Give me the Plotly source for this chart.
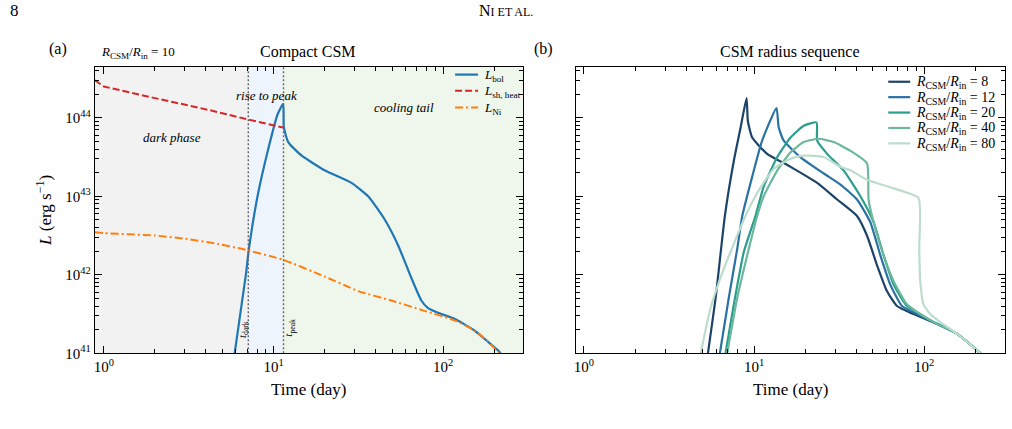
import numpy as np
import plotly.graph_objects as go

W, H = 1012, 429
SERIF = "Liberation Serif"

# ---------------- Panel (a): compact CSM, R_CSM/R_in = 10 ----------------
t_bol = [5.9, 6.87, 7.16, 8.05, 9.38, 10.56, 11.4, 11.5, 12.2, 14.6, 20.0, 28.8, 36.1,
         45.1, 54.1, 64.9, 74.3, 81.0, 97.6, 116.5, 152.7, 183.0, 214.0, 225.0]
L_bol = [1.0e41, 1.0e42, 2.14e42, 1.0e43, 4.27e43, 1.10e44, 1.51e44, 7.6e43, 4.9e43, 3.31e43,
         2.14e43, 1.48e43, 1.0e43, 5.1e42, 2.4e42, 9.1e41, 4.7e41, 3.8e41, 3.16e41, 2.75e41,
         1.95e41, 1.41e41, 1.05e41, 0.9e41]

t_sh = [0.885, 1.0, 2.0, 4.13, 7.1, 11.4]
L_sh = [3.0e44, 2.5e44, 1.78e44, 1.26e44, 9.5e43, 7.5e43]

t_ni = [0.885, 1.0, 2.0, 3.0, 4.5, 6.48, 11.4, 20.0, 31.6, 49.4, 77.5, 116.5, 152.7, 183.0, 214.0, 225.0]
L_ni = [3.47e42, 3.39e42, 3.16e42, 2.88e42, 2.51e42, 2.14e42, 1.55e42, 9.5e41, 6.2e41, 4.7e41,
        3.47e41, 2.63e41, 1.95e41, 1.41e41, 1.0e41, 0.9e41]

t_dark = 7.1
t_peak = 11.45

# ---------------- Panel (b): CSM radius sequence ----------------
ratios = [8, 12, 20, 40, 80]
t8 = [5.36, 5.95, 6.74, 7.62, 8.34, 9.04, 9.2, 9.76, 11.94, 16.4, 23.5, 30.8, 40.3, 46.1, 52.8,
      60.4, 69.2, 86.5, 118.8, 155.7, 194.5, 220]
L8 = [1.0e41, 5.1e41, 5.6e42, 2.88e43, 7.5e43, 1.78e44, 9.1e43, 5.6e43, 3.47e43, 2.37e43, 1.48e43,
      9.1e42, 5.6e42, 3.16e42, 1.33e42, 6.2e41, 4.0e41, 3.16e41, 2.37e41, 1.78e41, 1.2e41, 0.95e41]
t12 = [6.3, 7.11, 7.97, 8.53, 9.76, 11.16, 13.55, 13.97, 14.95, 18.7, 25.7, 32.2, 40.3, 48.2, 55.2,
       63.2, 74.0, 90.6, 118.8, 155.7, 194.5, 220]
L12 = [1.0e41, 5.1e41, 2.14e42, 5.6e42, 1.78e43, 5.1e43, 1.33e44, 7.5e43, 5.1e43, 3.16e43, 1.95e43,
       1.41e43, 9.1e42, 4.7e42, 1.78e42, 7.5e41, 4.0e41, 3.16e41, 2.37e41, 1.78e41, 1.2e41, 0.95e41]
t20 = [6.8, 7.61, 8.71, 10.2, 11.4, 13.7, 16.4, 19.6, 23.3, 23.5, 26.9, 33.6, 42.2, 50.4, 57.7,
       66.1, 79.2, 94.8, 118.8, 155.7, 194.5, 220]
L20 = [1.0e41, 4.2e41, 1.95e42, 5.6e42, 1.33e43, 3.16e43, 5.6e43, 7.9e43, 8.7e43, 5.1e43, 3.47e43,
       2.14e43, 1.0e43, 4.7e42, 1.78e42, 7.5e41, 4.0e41, 3.16e41, 2.37e41, 1.78e41, 1.2e41, 0.95e41]
t40 = [6.96, 7.97, 9.32, 10.44, 11.4, 13.7, 16.4, 19.6, 24.0, 29.4, 36.8, 46.1, 47.1, 50.4, 57.7,
       66.1, 79.2, 94.8, 118.8, 155.7, 194.5, 220]
L40 = [1.0e41, 5.1e41, 2.14e42, 5.6e42, 1.0e43, 2.14e43, 3.63e43, 4.9e43, 5.4e43, 4.9e43, 3.8e43,
       2.63e43, 9.1e42, 4.7e42, 1.78e42, 8.3e41, 4.2e41, 3.16e41, 2.37e41, 1.78e41, 1.2e41, 0.95e41]
t80 = [4.86, 5.56, 6.65, 8.91, 10.44, 13.07, 16.4, 19.6, 25.7, 32.2, 36.8, 46.1, 66.1, 92.6, 93.5,
       94.8, 99.0, 108.5, 124.2, 155.7, 194.5, 220]
L80 = [1.0e41, 3.8e41, 1.2e42, 5.6e42, 1.1e43, 2.24e43, 3.0e43, 3.3e43, 3.16e43, 2.37e43, 2.14e43,
       1.62e43, 1.26e43, 9.5e42, 2.14e42, 8.3e41, 4.2e41, 3.16e41, 2.5e41, 1.78e41, 1.2e41, 0.95e41]
seq_t = [t8, t12, t20, t40, t80]
seq_L = [L8, L12, L20, L40, L80]
seq_colors = ["#1b4468", "#2b72a3", "#2a9d8c", "#6bb89d", "#bcddcb"]

# ticks
x_major = [1, 10, 100]
x_major_text = ["10<sup>0</sup>", "10<sup>1</sup>", "10<sup>2</sup>"]
x_minor = [2, 3, 4, 5, 6, 7, 8, 9, 20, 30, 40, 50, 60, 70, 80, 90, 200, 300]
y_major = [1e41, 1e42, 1e43, 1e44]
y_major_text = ["10<sup>41</sup>", "10<sup>42</sup>", "10<sup>43</sup>", "10<sup>44</sup>"]
y_minor = [m * 10.0 ** e for e in (41, 42, 43, 44) for m in range(2, 10)]

XR_A = [np.log10(0.885), np.log10(295)]
XR_B = [-0.0469, 2.475]
YR = [41, 44.65]


def px(x):
    return x / W


def py(y):
    return 1 - y / H


fig = go.Figure()

SMOOTH = 0.5
bol_style = dict(color="#1f77b4", width=2.2)
sh_style = dict(color="#d62728", width=2, dash="7px,3px")
ni_style = dict(color="#ff7f0e", width=2, dash="8px,3px,2px,3px")

# panel (a) traces
fig.add_trace(go.Scatter(x=t_bol, y=L_bol, mode="lines", name="L_bol", showlegend=False,
                         line=dict(bol_style, shape="spline", smoothing=SMOOTH), xaxis="x", yaxis="y"))
fig.add_trace(go.Scatter(x=t_sh, y=L_sh, mode="lines", name="L_sh,heat", showlegend=False,
                         line=dict(sh_style, shape="linear"), xaxis="x", yaxis="y"))
fig.add_trace(go.Scatter(x=t_ni, y=L_ni, mode="lines", name="L_Ni", showlegend=False,
                         line=dict(ni_style, shape="spline", smoothing=SMOOTH), xaxis="x", yaxis="y"))

# panel (b) traces
for r, tt, LL, c in zip(ratios, seq_t, seq_L, seq_colors):
    fig.add_trace(go.Scatter(x=tt, y=LL, mode="lines", name=f"R_CSM/R_in = {r}", showlegend=False,
                             line=dict(color=c, width=2.2, shape="spline", smoothing=SMOOTH),
                             xaxis="x2", yaxis="y2"))

# shaded phases (panel a)
shade = [(0.885, t_dark, "#f2f2f2"),
         (t_dark, t_peak, "#eef4fb"),
         (t_peak, 295, "#eff6ec")]
for x0, x1, c in shade:
    fig.add_shape(type="rect", xref="x", yref="y domain", x0=x0, x1=x1, y0=0, y1=1,
                  fillcolor=c, line=dict(width=0), layer="below")
for tv in (t_dark, t_peak):
    fig.add_shape(type="line", xref="x", yref="y domain", x0=tv, x1=tv, y0=0, y1=1,
                  line=dict(color="#666666", width=1.4, dash="2px,2px"), layer="above")

axis_common = dict(type="log", showgrid=False, zeroline=False, showline=True, linecolor="black",
                   linewidth=1.2, mirror="allticks", ticks="inside", ticklen=7, tickwidth=1,
                   tickcolor="black", tickfont=dict(family=SERIF, size=15, color="black"))
xa = dict(axis_common, tickmode="array", tickvals=x_major, ticktext=x_major_text,
          minor=dict(tickmode="array", tickvals=x_minor, ticks="inside", ticklen=4, tickcolor="black",
                     showgrid=False))
ya = dict(axis_common, tickmode="array", tickvals=y_major, ticktext=y_major_text,
          minor=dict(tickmode="array", tickvals=y_minor, ticks="inside", ticklen=4, tickcolor="black",
                     showgrid=False))

fig.update_layout(
    width=W, height=H, margin=dict(l=0, r=0, t=0, b=0),
    paper_bgcolor="white", plot_bgcolor="white",
    font=dict(family=SERIF, color="black"),
    xaxis=dict(xa, domain=[px(93), px(522)], range=XR_A, anchor="y"),
    yaxis=dict(ya, domain=[py(360), py(68)], range=YR, anchor="x"),
    xaxis2=dict(xa, domain=[px(575), px(1005)], range=XR_B, anchor="y2"),
    yaxis2=dict(ya, domain=[py(360), py(68)], range=YR, anchor="x2", showticklabels=False),
    showlegend=False,
)

ann = []


def add_text(text, x, y, size, xref="paper", yref="paper", angle=0, xanchor="center", **kw):
    ann.append(dict(text=text, x=x, y=y, xref=xref, yref=yref, showarrow=False, textangle=angle,
                    xanchor=xanchor, yanchor="middle", font=dict(family=SERIF, size=size, color="black"), **kw))


# legends (keys drawn in paper space, text as annotations)
legend_a = [("<i>L</i><sub>bol</sub>", bol_style), ("<i>L</i><sub>sh, heat</sub>", sh_style),
            ("<i>L</i><sub>Ni</sub>", ni_style)]
for i, (lab, st) in enumerate(legend_a):
    yy = [76, 92.5, 109.5][i]
    fig.add_shape(type="line", xref="paper", yref="paper", x0=px(454), x1=px(477), y0=py(yy), y1=py(yy),
                  line=st)
    add_text(lab, px(481), py(yy + 1), 13, xanchor="left")
for i, (r, c) in enumerate(zip(ratios, seq_colors)):
    yy = 83.3 + i * 15.7
    fig.add_shape(type="line", xref="paper", yref="paper", x0=px(888), x1=px(910), y0=py(yy), y1=py(yy),
                  line=dict(color=c, width=2.2))
    add_text(f"<i>R</i><sub>CSM</sub>/<i>R</i><sub>in</sub> = {r}", px(914), py(yy + 1), 14, xanchor="left")

# page header
add_text("8", px(13), py(11), 17)
add_text("N<span style='font-size:12px'>I ET AL.</span>", px(505), py(11), 16)
# panel labels and titles
add_text("(a)", px(56), py(50), 16)
add_text("(b)", px(543), py(50), 16)
add_text("Compact CSM", px(307), py(53), 16)
add_text("CSM radius sequence", px(790), py(53), 16)
add_text("<i>R</i><sub>CSM</sub>/<i>R</i><sub>in</sub> = 10", px(97), py(54), 13, xanchor="left")
# axis titles
add_text("Time (day)", px(307), py(397), 17)
add_text("Time (day)", px(790), py(397), 17)
add_text("<i>L</i> (erg s<sup>\u22121</sup>)", px(42), py(214), 17, angle=-90)
# phase labels
add_text("<i>dark phase</i>", np.log10(2.51), 43.75, 13, xref="x", yref="y")
add_text("<i>rise to peak</i>", np.log10(9.1), 44.28, 13, xref="x", yref="y")
add_text("<i>cooling tail</i>", np.log10(59.0), 44.125, 13, xref="x", yref="y")
add_text("<i>t</i><sub>dark</sub>", np.log10(t_dark), 41.3, 11, xref="x", yref="y", angle=-90, xshift=-6)
add_text("<i>t</i><sub>peak</sub>", np.log10(t_peak), 41.32, 11, xref="x", yref="y", angle=-90, xshift=6)
fig.update_layout(annotations=ann)

fig.write_html("out.html", config={"displayModeBar": False})
